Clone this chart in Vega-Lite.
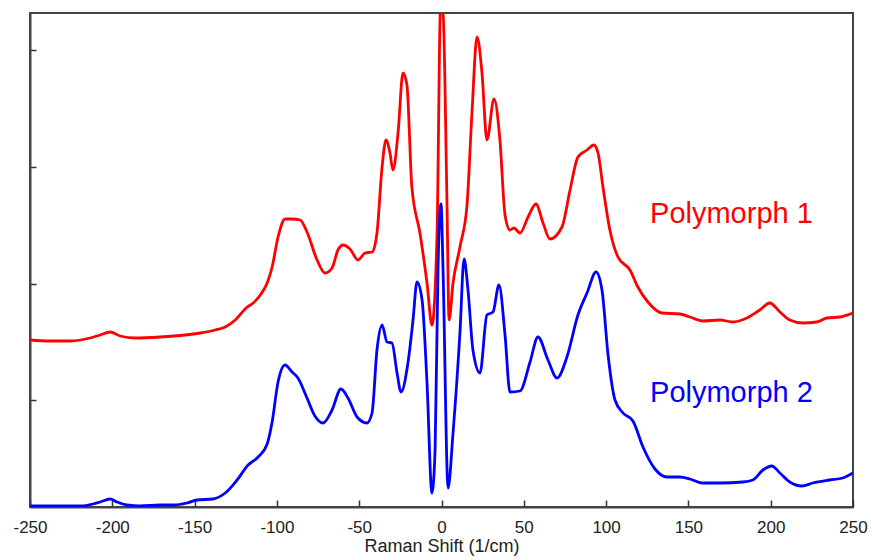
{
  "$schema": "https://vega.github.io/schema/vega-lite/v6.json",
  "width": 823,
  "height": 494,
  "autosize": {"type": "none"},
  "padding": {"left": 30, "top": 13, "right": 19, "bottom": 53},
  "background": "white",
  "config": {
    "view": {"stroke": "#444", "strokeWidth": 2},
    "font": "Liberation Sans"
  },
  "datasets": {
    "spectra": [
      {"s":"Polymorph 1","x":-250,"y":167},{"s":"Polymorph 1","x":-237.8,"y":166},{"s":"Polymorph 1","x":-225.6,"y":166},{"s":"Polymorph 1","x":-213.5,"y":169},{"s":"Polymorph 1","x":-207.4,"y":172},{"s":"Polymorph 1","x":-201.3,"y":175},{"s":"Polymorph 1","x":-195.2,"y":171},{"s":"Polymorph 1","x":-186.1,"y":169},{"s":"Polymorph 1","x":-170.9,"y":170},{"s":"Polymorph 1","x":-155.7,"y":172},{"s":"Polymorph 1","x":-146.6,"y":174},{"s":"Polymorph 1","x":-137.5,"y":177},{"s":"Polymorph 1","x":-131.4,"y":180},{"s":"Polymorph 1","x":-125.3,"y":187},{"s":"Polymorph 1","x":-118.0,"y":200},{"s":"Polymorph 1","x":-114.4,"y":204},{"s":"Polymorph 1","x":-110.1,"y":212},{"s":"Polymorph 1","x":-105.9,"y":224},{"s":"Polymorph 1","x":-102.9,"y":240},{"s":"Polymorph 1","x":-99.3,"y":270},{"s":"Polymorph 1","x":-95.0,"y":288},{"s":"Polymorph 1","x":-90.8,"y":288},{"s":"Polymorph 1","x":-85.9,"y":287},{"s":"Polymorph 1","x":-81.7,"y":275},{"s":"Polymorph 1","x":-75.6,"y":247},{"s":"Polymorph 1","x":-70.8,"y":234},{"s":"Polymorph 1","x":-66.5,"y":239},{"s":"Polymorph 1","x":-62.9,"y":257},{"s":"Polymorph 1","x":-59.8,"y":262},{"s":"Polymorph 1","x":-55.6,"y":258},{"s":"Polymorph 1","x":-50.7,"y":247},{"s":"Polymorph 1","x":-46.5,"y":254},{"s":"Polymorph 1","x":-42.2,"y":255},{"s":"Polymorph 1","x":-39.2,"y":274},{"s":"Polymorph 1","x":-36.1,"y":340},{"s":"Polymorph 1","x":-33.7,"y":367},{"s":"Polymorph 1","x":-31.3,"y":354},{"s":"Polymorph 1","x":-29.5,"y":337},{"s":"Polymorph 1","x":-26.4,"y":374},{"s":"Polymorph 1","x":-23.4,"y":434},{"s":"Polymorph 1","x":-21.0,"y":422},{"s":"Polymorph 1","x":-18.0,"y":320},{"s":"Polymorph 1","x":-13.1,"y":274},{"s":"Polymorph 1","x":-8.8,"y":224},{"s":"Polymorph 1","x":-5.8,"y":182},{"s":"Polymorph 1","x":-2.7,"y":274},{"s":"Polymorph 1","x":-0.6,"y":497},{"s":"Polymorph 1","x":0.9,"y":494},{"s":"Polymorph 1","x":3.3,"y":307},{"s":"Polymorph 1","x":4.6,"y":187},{"s":"Polymorph 1","x":7.0,"y":224},{"s":"Polymorph 1","x":11.2,"y":260},{"s":"Polymorph 1","x":15.5,"y":302},{"s":"Polymorph 1","x":18.5,"y":394},{"s":"Polymorph 1","x":21.6,"y":470},{"s":"Polymorph 1","x":24.6,"y":434},{"s":"Polymorph 1","x":27.6,"y":367},{"s":"Polymorph 1","x":31.9,"y":408},{"s":"Polymorph 1","x":35.5,"y":367},{"s":"Polymorph 1","x":38.6,"y":292},{"s":"Polymorph 1","x":41.6,"y":277},{"s":"Polymorph 1","x":44.0,"y":279},{"s":"Polymorph 1","x":47.7,"y":274},{"s":"Polymorph 1","x":52.6,"y":290},{"s":"Polymorph 1","x":57.4,"y":303},{"s":"Polymorph 1","x":61.7,"y":284},{"s":"Polymorph 1","x":65.9,"y":268},{"s":"Polymorph 1","x":73.2,"y":280},{"s":"Polymorph 1","x":78.1,"y":317},{"s":"Polymorph 1","x":82.9,"y":350},{"s":"Polymorph 1","x":88.4,"y":357},{"s":"Polymorph 1","x":92.6,"y":362},{"s":"Polymorph 1","x":95.1,"y":354},{"s":"Polymorph 1","x":98.1,"y":320},{"s":"Polymorph 1","x":102.3,"y":277},{"s":"Polymorph 1","x":107.2,"y":250},{"s":"Polymorph 1","x":114.5,"y":237},{"s":"Polymorph 1","x":119.3,"y":220},{"s":"Polymorph 1","x":125.4,"y":205},{"s":"Polymorph 1","x":133.9,"y":194},{"s":"Polymorph 1","x":144.8,"y":193},{"s":"Polymorph 1","x":150.9,"y":190},{"s":"Polymorph 1","x":158.8,"y":186},{"s":"Polymorph 1","x":169.1,"y":187},{"s":"Polymorph 1","x":177.0,"y":185},{"s":"Polymorph 1","x":185.5,"y":189},{"s":"Polymorph 1","x":193.4,"y":197},{"s":"Polymorph 1","x":199.5,"y":204},{"s":"Polymorph 1","x":205.6,"y":195},{"s":"Polymorph 1","x":211.6,"y":187},{"s":"Polymorph 1","x":219.5,"y":184},{"s":"Polymorph 1","x":228.0,"y":185},{"s":"Polymorph 1","x":234.1,"y":189},{"s":"Polymorph 1","x":242.0,"y":190},{"s":"Polymorph 1","x":249.9,"y":194},
      {"s":"Polymorph 2","x":-250,"y":1},{"s":"Polymorph 2","x":-217.8,"y":1},{"s":"Polymorph 2","x":-211.8,"y":3},{"s":"Polymorph 2","x":-207.4,"y":5},{"s":"Polymorph 2","x":-201.3,"y":8},{"s":"Polymorph 2","x":-197.1,"y":5},{"s":"Polymorph 2","x":-191.1,"y":2},{"s":"Polymorph 2","x":-183.2,"y":1},{"s":"Polymorph 2","x":-171.0,"y":2},{"s":"Polymorph 2","x":-163.1,"y":2},{"s":"Polymorph 2","x":-154.6,"y":4},{"s":"Polymorph 2","x":-148.5,"y":7},{"s":"Polymorph 2","x":-138.8,"y":8},{"s":"Polymorph 2","x":-131.4,"y":14},{"s":"Polymorph 2","x":-124.2,"y":27},{"s":"Polymorph 2","x":-117.5,"y":42},{"s":"Polymorph 2","x":-111.4,"y":50},{"s":"Polymorph 2","x":-105.9,"y":63},{"s":"Polymorph 2","x":-102.9,"y":85},{"s":"Polymorph 2","x":-99.3,"y":125},{"s":"Polymorph 2","x":-95.0,"y":142},{"s":"Polymorph 2","x":-90.8,"y":135},{"s":"Polymorph 2","x":-87.2,"y":129},{"s":"Polymorph 2","x":-81.7,"y":109},{"s":"Polymorph 2","x":-76.9,"y":91},{"s":"Polymorph 2","x":-72.0,"y":84},{"s":"Polymorph 2","x":-66.5,"y":97},{"s":"Polymorph 2","x":-61.1,"y":118},{"s":"Polymorph 2","x":-56.8,"y":109},{"s":"Polymorph 2","x":-51.3,"y":90},{"s":"Polymorph 2","x":-45.3,"y":84},{"s":"Polymorph 2","x":-42.2,"y":94},{"s":"Polymorph 2","x":-39.2,"y":157},{"s":"Polymorph 2","x":-36.1,"y":182},{"s":"Polymorph 2","x":-33.1,"y":165},{"s":"Polymorph 2","x":-30.1,"y":164},{"s":"Polymorph 2","x":-27.0,"y":134},{"s":"Polymorph 2","x":-24.6,"y":115},{"s":"Polymorph 2","x":-20.4,"y":144},{"s":"Polymorph 2","x":-17.3,"y":187},{"s":"Polymorph 2","x":-14.9,"y":225},{"s":"Polymorph 2","x":-11.8,"y":207},{"s":"Polymorph 2","x":-8.8,"y":124},{"s":"Polymorph 2","x":-5.8,"y":14},{"s":"Polymorph 2","x":-3.9,"y":57},{"s":"Polymorph 2","x":-2.1,"y":240},{"s":"Polymorph 2","x":-0.3,"y":303},{"s":"Polymorph 2","x":0.9,"y":240},{"s":"Polymorph 2","x":4.0,"y":19},{"s":"Polymorph 2","x":7.0,"y":74},{"s":"Polymorph 2","x":11.2,"y":174},{"s":"Polymorph 2","x":13.7,"y":248},{"s":"Polymorph 2","x":16.1,"y":217},{"s":"Polymorph 2","x":19.1,"y":157},{"s":"Polymorph 2","x":23.4,"y":134},{"s":"Polymorph 2","x":27.6,"y":192},{"s":"Polymorph 2","x":31.3,"y":195},{"s":"Polymorph 2","x":34.9,"y":222},{"s":"Polymorph 2","x":38.6,"y":172},{"s":"Polymorph 2","x":41.6,"y":115},{"s":"Polymorph 2","x":47.7,"y":116},{"s":"Polymorph 2","x":53.8,"y":145},{"s":"Polymorph 2","x":58.6,"y":170},{"s":"Polymorph 2","x":64.7,"y":147},{"s":"Polymorph 2","x":70.2,"y":129},{"s":"Polymorph 2","x":76.2,"y":150},{"s":"Polymorph 2","x":82.9,"y":192},{"s":"Polymorph 2","x":88.4,"y":214},{"s":"Polymorph 2","x":93.9,"y":235},{"s":"Polymorph 2","x":97.5,"y":217},{"s":"Polymorph 2","x":101.2,"y":152},{"s":"Polymorph 2","x":105.4,"y":107},{"s":"Polymorph 2","x":110.3,"y":94},{"s":"Polymorph 2","x":116.3,"y":86},{"s":"Polymorph 2","x":122.4,"y":60},{"s":"Polymorph 2","x":129.7,"y":38},{"s":"Polymorph 2","x":137.0,"y":30},{"s":"Polymorph 2","x":144.8,"y":30},{"s":"Polymorph 2","x":151.0,"y":28},{"s":"Polymorph 2","x":158.2,"y":24},{"s":"Polymorph 2","x":169.1,"y":24},{"s":"Polymorph 2","x":183.1,"y":25},{"s":"Polymorph 2","x":189.2,"y":27},{"s":"Polymorph 2","x":195.3,"y":37},{"s":"Polymorph 2","x":200.7,"y":41},{"s":"Polymorph 2","x":205.6,"y":34},{"s":"Polymorph 2","x":211.6,"y":25},{"s":"Polymorph 2","x":218.9,"y":21},{"s":"Polymorph 2","x":225.6,"y":24},{"s":"Polymorph 2","x":235.9,"y":27},{"s":"Polymorph 2","x":243.8,"y":29},{"s":"Polymorph 2","x":249.9,"y":34}
    ],
    "labels": [
      {"s":"Polymorph 1","label":"Polymorph 1","x":126.7,"y":284},
      {"s":"Polymorph 2","label":"Polymorph 2","x":126.7,"y":105}
    ]
  },
  "layer": [
    {
      "data": {"name": "spectra"},
      "mark": {"type": "line", "interpolate": "monotone", "strokeWidth": 2.8, "clip": true},
      "encoding": {
        "x": {
          "field": "x", "type": "quantitative",
          "scale": {"domain": [-250, 250], "nice": false, "zero": false},
          "axis": {
            "values": [-250, -200, -150, -100, -50, 0, 50, 100, 150, 200, 250],
            "labelExpr": "toString(datum.value)",
            "grid": false, "domainColor": "#444", "domainWidth": 2,
            "tickColor": "#333", "tickWidth": 1.5, "tickSize": -7,
            "labelFontSize": 17, "labelColor": "#222", "labelFont": "Liberation Sans",
            "labelPadding": 19, "labelFlush": false, "labelOverlap": false, "labelBound": false,
            "title": "Raman Shift (1/cm)", "titleFontSize": 18, "titleFontWeight": "normal",
            "titleColor": "#222", "titleFont": "Liberation Sans", "titlePadding": 2
          }
        },
        "y": {
          "field": "y", "type": "quantitative",
          "scale": {"domain": [0, 494], "nice": false, "zero": false},
          "axis": {
            "values": [107, 223, 340, 457],
            "labels": false, "title": null, "grid": false,
            "domainColor": "#444", "domainWidth": 2,
            "tickColor": "#333", "tickWidth": 1.5, "tickSize": -6
          }
        },
        "color": {
          "field": "s", "type": "nominal",
          "scale": {"domain": ["Polymorph 1", "Polymorph 2"], "range": ["#ff0000", "#0000ff"]},
          "legend": null
        },
        "detail": {"field": "s"}
      }
    },
    {
      "data": {"name": "labels"},
      "mark": {"type": "text", "align": "left", "baseline": "alphabetic", "fontSize": 29, "font": "Liberation Sans"},
      "encoding": {
        "x": {"field": "x", "type": "quantitative"},
        "y": {"field": "y", "type": "quantitative"},
        "text": {"field": "label"},
        "color": {"field": "s", "type": "nominal", "legend": null}
      }
    }
  ]
}
